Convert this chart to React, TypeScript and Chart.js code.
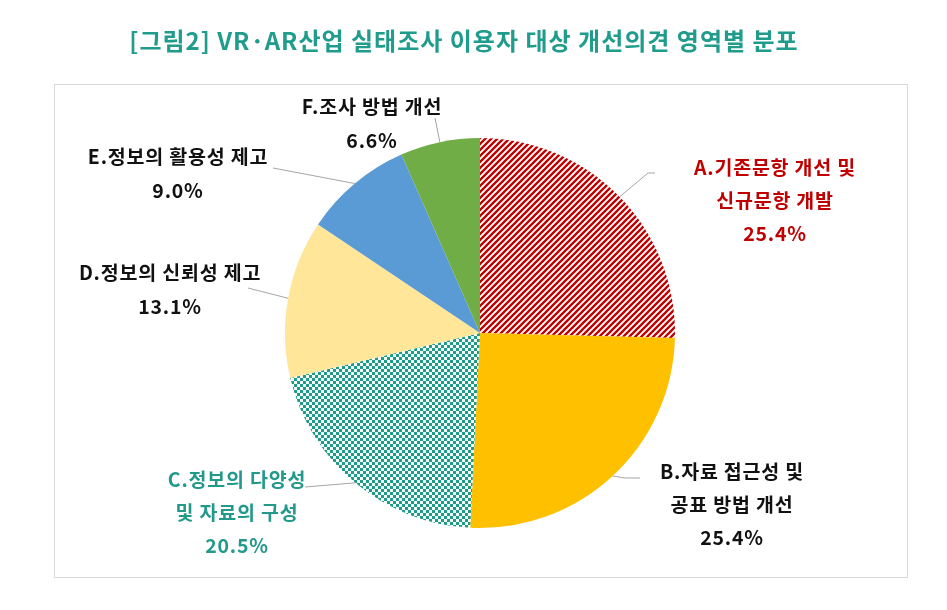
import React, { useEffect, useRef } from "react";
import { Chart, registerables } from "chart.js";

Chart.register(...registerables);

const TITLE = "[그림2] VR·AR산업 실태조사 이용자 대상 개선의견 영역별 분포";

const categories: string[][] = [
  ["A.기존문항 개선 및", "신규문항 개발"],
  ["B.자료 접근성 및", "공표 방법 개선"],
  ["C.정보의 다양성", "및 자료의 구성"],
  ["D.정보의 신뢰성 제고"],
  ["E.정보의 활용성 제고"],
  ["F.조사 방법 개선"],
];

const values: number[] = [25.4, 25.4, 20.5, 13.1, 9.0, 6.6];

const labelColors: string[] = ["#C00000", "#111111", "#22998A", "#111111", "#111111", "#111111"];

// layout of label blocks (center x, first line y) and leader end points
const labelLayout = [
  { x: 775, y: 168, leader: [[648, 173], [655, 173]] },
  { x: 732, y: 472, leader: [[625, 478], [640, 478]] },
  { x: 237, y: 480, leader: [[305, 487]] },
  { x: 170, y: 273, leader: [[248, 288]] },
  { x: 178, y: 157, leader: [[273, 168]] },
  { x: 372, y: 107, leader: [[435, 118]] },
];

const FONT = '"Noto Sans CJK KR", "Noto Sans", sans-serif';

function stripePattern(ctx: CanvasRenderingContext2D): CanvasPattern | string {
  const c = document.createElement("canvas");
  const s = 6;
  c.width = s;
  c.height = s;
  const g = c.getContext("2d")!;
  g.fillStyle = "#ffffff";
  g.fillRect(0, 0, s, s);
  g.strokeStyle = "#C00000";
  g.lineWidth = 2.3;
  g.beginPath();
  g.moveTo(-1, s + 1);
  g.lineTo(s + 1, -1);
  g.moveTo(-1, 1);
  g.lineTo(1, -1);
  g.moveTo(s - 1, s + 1);
  g.lineTo(s + 1, s - 1);
  g.stroke();
  return ctx.createPattern(c, "repeat") || "#C00000";
}

function dotPattern(ctx: CanvasRenderingContext2D): CanvasPattern | string {
  const c = document.createElement("canvas");
  const s = 6;
  c.width = s;
  c.height = s;
  const g = c.getContext("2d")!;
  g.fillStyle = "#F2FAF8";
  g.fillRect(0, 0, s, s);
  g.fillStyle = "#1E9A86";
  g.fillRect(0, 0, 3, 3);
  g.fillRect(3, 3, 3, 3);
  return ctx.createPattern(c, "repeat") || "#1E9A86";
}

const decorPlugin = {
  id: "decor",
  beforeDraw(chart: any) {
    const ctx = chart.ctx as CanvasRenderingContext2D;
    ctx.save();
    ctx.fillStyle = "#ffffff";
    ctx.fillRect(0, 0, chart.width, chart.height);
    ctx.strokeStyle = "#D9D9D9";
    ctx.lineWidth = 1;
    ctx.strokeRect(54.5, 84.5, 853, 493);
    ctx.fillStyle = "#1F9C8C";
    ctx.font = `bold 24px ${FONT}`;
    (ctx as any).letterSpacing = "1px";
    ctx.textAlign = "center";
    ctx.textBaseline = "middle";
    ctx.fillText(TITLE, 464, 41);
    ctx.restore();
  },
  afterDraw(chart: any) {
    const ctx = chart.ctx as CanvasRenderingContext2D;
    const meta = chart.getDatasetMeta(0);
    const data = chart.data.datasets[0].data as number[];
    const labels = chart.data.labels as string[][];
    ctx.save();
    meta.data.forEach((arc: any, i: number) => {
      const p = arc.getProps(["x", "y", "startAngle", "endAngle", "outerRadius"], true);
      const mid = (p.startAngle + p.endAngle) / 2;
      const sx = p.x + Math.cos(mid) * p.outerRadius;
      const sy = p.y + Math.sin(mid) * p.outerRadius;
      const lay = labelLayout[i];
      ctx.strokeStyle = "#A6A6A6";
      ctx.lineWidth = 1;
      ctx.beginPath();
      ctx.moveTo(sx, sy);
      lay.leader.forEach((pt) => ctx.lineTo(pt[0], pt[1]));
      ctx.stroke();

      const lines = [...labels[i], data[i].toFixed(1) + "%"];
      ctx.fillStyle = labelColors[i];
      ctx.font = `bold 19.5px ${FONT}`;
      (ctx as any).letterSpacing = "0.8px";
      ctx.textAlign = "center";
      ctx.textBaseline = "middle";
      const gap = lines.length === 2 ? 34 : 33;
      lines.forEach((t, k) => ctx.fillText(t, lay.x, lay.y + k * gap));
    });
    ctx.restore();
  },
};

export default function App() {
  const ref = useRef<HTMLCanvasElement | null>(null);
  useEffect(() => {
    const canvas = ref.current!;
    const ctx = canvas.getContext("2d")!;
    const chart = new Chart(canvas, {
      type: "pie",
      data: {
        labels: categories,
        datasets: [
          {
            data: values,
            backgroundColor: [
              stripePattern(ctx),
              "#FFC000",
              dotPattern(ctx),
              "#FFE699",
              "#5B9BD5",
              "#70AD47",
            ] as any,
            borderWidth: 0,
          },
        ],
      },
      options: {
        responsive: false,
        animation: false,
        layout: { padding: { top: 138, bottom: 82, left: 285, right: 272 } },
        plugins: {
          legend: { display: false },
          tooltip: { enabled: false },
          title: { display: false },
        },
      },
      plugins: [decorPlugin],
    });
    return () => chart.destroy();
  }, []);
  return (
    <div style={{ position: "fixed", left: 0, top: 0, width: 947, height: 610, background: "#fff" }}>
      <canvas ref={ref} width={947} height={610} style={{ display: "block", width: 947, height: 610 }} />
    </div>
  );
}
